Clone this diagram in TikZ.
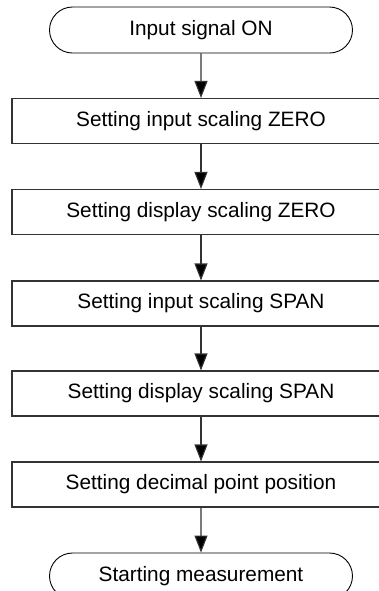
\documentclass[tikz,border=0pt]{standalone}
\usepackage{fontspec}
\setmainfont{Liberation Sans}
\usetikzlibrary{shapes.misc,arrows.meta}
\begin{document}
\begin{tikzpicture}
  [x=0.5pt,y=-0.5pt,
   every node/.style={font=\fontsize{10.4}{12.5}\selectfont, inner sep=0pt},
   terminal/.style={rounded rectangle, draw=black, line width=0.45pt,
     minimum width=151.5pt, minimum height=23pt},
   process/.style={rectangle, draw=black!80, line width=0.55pt,
     minimum width=189pt, minimum height=22.5pt},
   flow/.style={draw=black!80, line width=0.55pt,
     -{Triangle[width=6.5pt,length=8.5pt,fill=black]}}]
  \useasboundingbox (0,0) rectangle (379,591);
  \clip (0,0) rectangle (379,591);
  \node[terminal] (0) at (201,30) {Input signal ON};
  \node[process] (1) at (201,121) {Setting input scaling ZERO};
  \node[process] (2) at (201,212) {Setting display scaling ZERO};
  \node[process] (3) at (201,303.5) {Setting input scaling SPAN};
  \node[process] (4) at (201,393.5) {Setting display scaling SPAN};
  \node[process] (5) at (201,484.5) {Setting decimal point position};
  \node[terminal] (6) at (201,576) {Starting measurement};

  \draw[flow] (0) -- (1);
  \draw[flow] (1) -- (2);
  \draw[flow] (2) -- (3);
  \draw[flow] (3) -- (4);
  \draw[flow] (4) -- (5);
  \draw[flow] (5) -- (6);

\end{tikzpicture}
\end{document}
